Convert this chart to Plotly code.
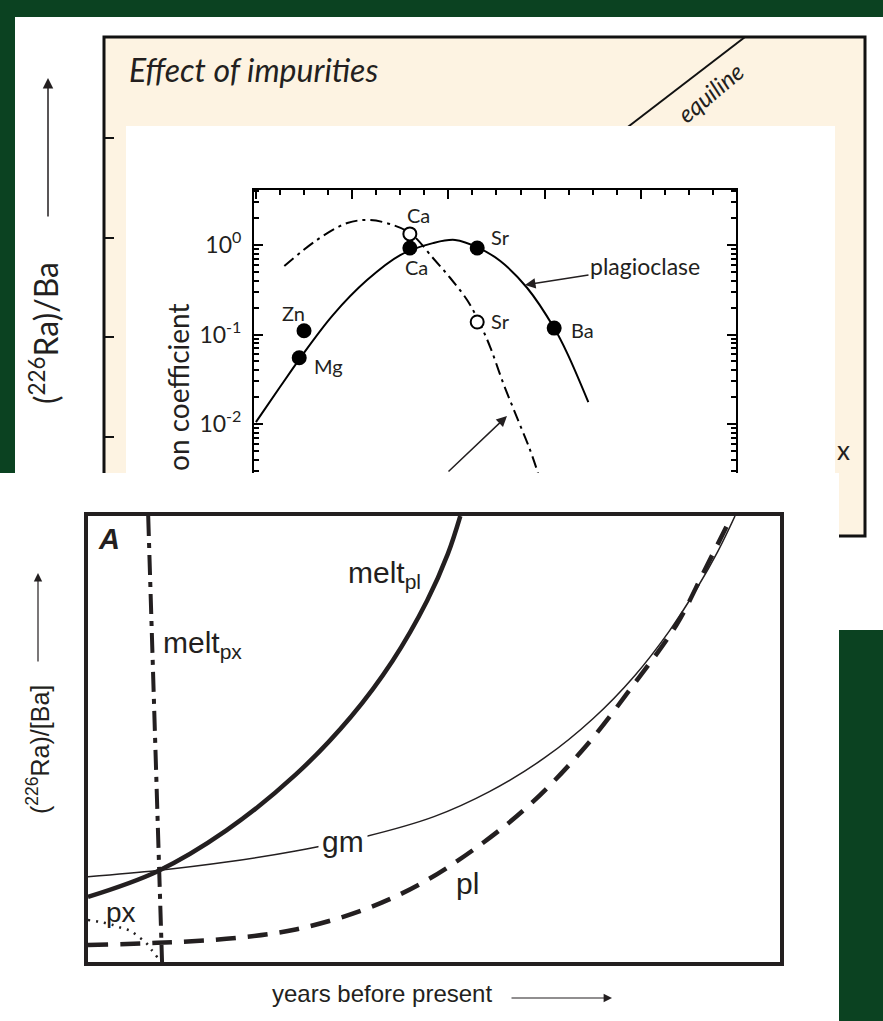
import plotly.graph_objects as go

W, H = 883, 1021
GREEN = "#0b4221"
BEIGE = "#fdf3e2"
INK = "#231f20"
SANS_T = "Lato, 'Noto Sans', sans-serif"
SANS_B = "'Liberation Sans', Arial, sans-serif"

# ---------------- inset: partition coefficient vs ionic radius ----------------
plag_radius = [0.800, 0.850, 0.892, 0.960, 1.031, 1.100, 1.168, 1.214, 1.264, 1.308, 1.364, 1.420, 1.447, 1.491]
plag_coeff = [0.0105, 0.0259, 0.0546, 0.165, 0.406, 0.773, 1.05, 1.14, 0.925, 0.662, 0.331, 0.118, 0.062, 0.0176]

other_radius = [0.859, 0.927, 0.990, 1.037, 1.085, 1.123, 1.168, 1.204, 1.239, 1.264, 1.287, 1.314, 1.343, 1.370, 1.391]
other_coeff = [0.582, 1.14, 1.76, 1.90, 1.67, 1.33, 0.716, 0.428, 0.243, 0.138, 0.0725, 0.0287, 0.0117, 0.00512, 0.00237]

filled_elements = ["Mg", "Zn", "Ca", "Sr", "Ba"]
filled_radius = [0.89, 0.90, 1.12, 1.26, 1.42]
filled_coeff = [0.055, 0.11, 0.925, 0.925, 0.118]

open_elements = ["Ca", "Sr"]
open_radius = [1.12, 1.26]
open_coeff = [1.33, 0.138]

inset_ticks = [0.01, 0.1, 1]
inset_ticktext = ["10<sup>-2</sup>", "10<sup>-1</sup>", "10<sup>0</sup>"]

# ---------------- main panel A: (226Ra)/[Ba] vs time ----------------
melt_pl_t = [0, 10, 20, 30, 38, 44, 49, 52, 53.8]
melt_pl_r = [14.6, 20.3, 29.5, 42.0, 55.0, 67.5, 81.0, 91.5, 100]

gm_t = [0, 10, 20, 30, 40, 50, 58, 66, 73, 79, 84, 88, 91, 93.5]
gm_r = [19.1, 20.5, 22.4, 24.9, 28.1, 32.6, 38.2, 45.8, 54.6, 64.2, 74.2, 83.8, 92.0, 100]

pl_t = [0, 10, 20, 30, 40, 48, 56, 64, 72, 79, 85, 89, 92.9]
pl_r = [3.8, 4.3, 5.2, 7.3, 11.8, 17.5, 25.5, 35.5, 48.5, 62.5, 75.5, 87.5, 99.6]

melt_px_t = [8.7, 10.7]
melt_px_r = [100, 0]

px_t = [0, 1.7, 3.6, 4.9, 6.1, 7.2, 8.4, 9.2, 10.1]
px_r = [9.4, 9.0, 8.3, 7.6, 7.0, 5.8, 4.3, 2.7, 0.9]


def fx(p):
    return p / W


def fy(p):
    return 1 - p / H


fig = go.Figure()

# panel A curves
fig.add_trace(go.Scatter(x=melt_px_t, y=melt_px_r, mode="lines", xaxis="x", yaxis="y",
                         line=dict(color=INK, width=4, dash="20px,7px,5px,7px")))
fig.add_trace(go.Scatter(x=pl_t, y=pl_r, mode="lines", xaxis="x", yaxis="y",
                         line=dict(color=INK, width=4.5, dash="20px,12px", shape="spline")))
fig.add_trace(go.Scatter(x=px_t, y=px_r, mode="lines", xaxis="x", yaxis="y",
                         line=dict(color=INK, width=2.5, dash="2px,6px", shape="spline")))
fig.add_trace(go.Scatter(x=gm_t, y=gm_r, mode="lines", xaxis="x", yaxis="y",
                         line=dict(color=INK, width=1.5, shape="spline")))
fig.add_trace(go.Scatter(x=melt_pl_t, y=melt_pl_r, mode="lines", xaxis="x", yaxis="y",
                         line=dict(color=INK, width=4.5, shape="spline")))

# inset curves and points
fig.add_trace(go.Scatter(x=plag_radius, y=plag_coeff, mode="lines", xaxis="x2", yaxis="y2",
                         line=dict(color="black", width=2, shape="spline")))
fig.add_trace(go.Scatter(x=other_radius, y=other_coeff, mode="lines", xaxis="x2", yaxis="y2",
                         line=dict(color="black", width=2, dash="12px,5px,3px,5px", shape="spline")))
fig.add_trace(go.Scatter(x=filled_radius, y=filled_coeff, mode="markers", xaxis="x2", yaxis="y2",
                         marker=dict(color="black", size=15)))
fig.add_trace(go.Scatter(x=open_radius, y=open_coeff, mode="markers", xaxis="x2", yaxis="y2",
                         marker=dict(color="white", size=13, line=dict(color="black", width=2))))

# host axis for the tick marks on the framed background panel
fig.add_trace(go.Scatter(x=[], y=[], xaxis="x3", yaxis="y3", hoverinfo="skip"))

shapes = [
    dict(type="rect", xref="paper", yref="paper", x0=fx(15), x1=fx(883), y0=fy(630), y1=fy(17),
         fillcolor="white", line_width=0, layer="below"),
    dict(type="rect", xref="paper", yref="paper", x0=fx(104), x1=fx(865), y0=fy(536), y1=fy(37),
         fillcolor=BEIGE, line=dict(color="#111111", width=3), layer="below"),
    dict(type="line", xref="paper", yref="paper", x0=fx(745), y0=fy(37), x1=fx(620), y1=fy(133),
         line=dict(color="#111111", width=2), layer="below"),
    dict(type="rect", xref="paper", yref="paper", x0=fx(126), x1=fx(835), y0=fy(473), y1=fy(126),
         fillcolor="white", line_width=0, layer="below"),
    dict(type="rect", xref="paper", yref="paper", x0=fx(0), x1=fx(839), y0=fy(1021), y1=fy(473),
         fillcolor="white", line_width=0, layer="below"),
]

ann = []


def label(text, x, y, size, family=SANS_T, xref="paper", yref="paper", angle=0, xanchor="center", **kw):
    ann.append(dict(text=text, x=x, y=y, xref=xref, yref=yref, showarrow=False, textangle=angle,
                    xanchor=xanchor, yanchor="middle",
                    font=dict(size=size, family=family, color=kw.pop("color", INK)), **kw))


def arrow(tip_x, tip_y, dx, dy, width=1.5, size=1.4, text="", font=None):
    d = dict(text=text, x=fx(tip_x), y=fy(tip_y), xref="paper", yref="paper", showarrow=True,
             ax=dx, ay=dy, arrowhead=2, arrowsize=size, arrowwidth=width, arrowcolor=INK)
    if font:
        d["font"] = font
    ann.append(d)


# framed background panel texts
label("<i>Effect of impurities</i>", fx(127), fy(70), 32, xanchor="left")
label("<i>equiline</i>", fx(710), fy(93), 24, angle=-40)
label("(<sup>226</sup>Ra)/Ba", fx(44), fy(333), 32, angle=-90)
arrow(48, 78, 0, 140)
label("x", fx(843), fy(450), 26)

# inset texts
label("on coefficient", fx(178), fy(387), 28, angle=-90)
for name, x, y in [("Ca", 1.137, 0.335), ("Ca", 1.133, -0.246), ("Sr", 1.308, 0.089),
                   ("Sr", 1.308, -0.85), ("Zn", 0.879, -0.76), ("Mg", 0.950, -1.352),
                   ("Ba", 1.478, -0.95)]:
    label(name, x, y, 20, xref="x2", yref="y2")
arrow(525, 285, 120, -19, text="plagioclase", font=dict(size=23, family=SANS_T, color=INK))
arrow(507, 416, -60, 57)

# panel A texts
label("<b><i>A</i></b>", 3.0, 94.8, 29, family=SANS_B, xref="x", yref="y")
label("melt<sub>pl</sub>", 42.9, 86.8, 30, family=SANS_B, xref="x", yref="y")
label("melt<sub>px</sub>", 16.6, 71.1, 30, family=SANS_B, xref="x", yref="y")
label("gm", 36.8, 27.1, 30, family=SANS_B, xref="x", yref="y", bgcolor="white", borderpad=3)
label("pl", 54.9, 17.5, 30, family=SANS_B, xref="x", yref="y")
label("px", 4.8, 11.2, 28, family=SANS_B, xref="x", yref="y")
label("years before present", fx(382), fy(993), 24, family=SANS_B)
arrow(612, 998, -102, 0, width=1.2)
label("(<sup>226</sup>Ra)/[Ba]", fx(38), fy(750), 25, family=SANS_B, angle=-90)
arrow(38, 573, 0, 90, width=1.2)

frame = dict(showline=True, mirror=True, linewidth=4, linecolor=INK, ticks="", showticklabels=False,
             showgrid=False, zeroline=False, fixedrange=True)

fig.update_layout(
    width=W, height=H, margin=dict(l=0, r=0, t=0, b=0), autosize=False,
    paper_bgcolor=GREEN, plot_bgcolor="rgba(0,0,0,0)", showlegend=False,
    shapes=shapes, annotations=ann,
    xaxis=dict(domain=[fx(88), fx(780)], range=[0, 100], anchor="y", **frame),
    yaxis=dict(domain=[fy(962), fy(516)], range=[0, 100], anchor="x", **frame),
    xaxis2=dict(domain=[fx(254), fx(736)], range=[0.796, 1.798], anchor="y2", side="top",
                showline=True, mirror=False, linewidth=2, linecolor="black",
                ticks="inside", ticklen=9, tickwidth=2, tickcolor="black", dtick=0.2, tick0=0,
                showticklabels=False, showgrid=False, zeroline=False,
                minor=dict(ticks="inside", ticklen=5, tickwidth=1.5, tickcolor="black", dtick=0.05,
                           tick0=0, showgrid=False)),
    yaxis2=dict(domain=[fy(473), fy(190)], type="log", range=[-2.547, 0.6145], anchor="x2",
                showline=True, mirror="ticks", linewidth=2, linecolor="black",
                ticks="inside", ticklen=9, tickwidth=2, tickcolor="black",
                tickmode="array", tickvals=inset_ticks, ticktext=inset_ticktext,
                tickfont=dict(size=23, family=SANS_T, color=INK), ticklabelstandoff=6,
                showgrid=False, zeroline=False,
                minor=dict(ticks="inside", ticklen=5, tickwidth=1.5, tickcolor="black", dtick="D1",
                           showgrid=False)),
    xaxis3=dict(domain=[fx(104), fx(865)], range=[0, 1], anchor="y3", visible=False),
    yaxis3=dict(domain=[fy(473), fy(38)], range=[0.641, 5.0], anchor="x3", showline=False,
                ticks="inside", ticklen=10, tickwidth=2, tickcolor="#111111", dtick=1, tick0=0,
                showticklabels=False, showgrid=False, zeroline=False),
)

fig.write_html("out.html")
